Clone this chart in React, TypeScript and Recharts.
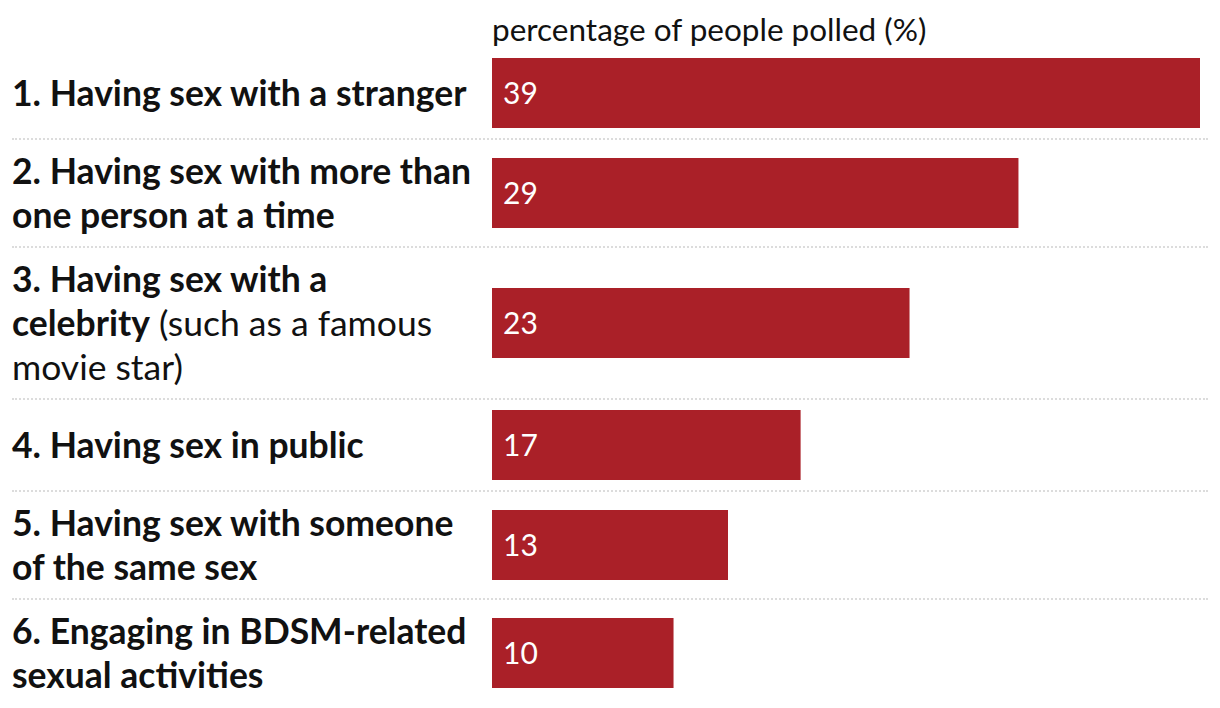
import React from 'react';
import { BarChart, Bar, XAxis, YAxis, LabelList } from 'recharts';

const categories = [
  '1. Having sex with a stranger',
  '2. Having sex with more than\none person at a time',
  '3. Having sex with a\ncelebrity',
  '4. Having sex in public',
  '5. Having sex with someone\nof the same sex',
  '6. Engaging in BDSM-related\nsexual activities',
];
const notes = ['', '', ' (such as a famous\nmovie star)', '', '', ''];
const values = [39, 29, 23, 17, 13, 10];
const axisTitle = 'percentage of people polled (%)';

const BAR_COLOR = '#aa2028';
const FONT = 'Lato, "Noto Sans", sans-serif';
const LINE_H = 44;
const maxValue = Math.max(...values);

const rowHeight = (text: string) => {
  const lines = text.split('\n').length;
  return Math.max(90, lines * LINE_H + 18);
};

const Row = ({ i, last }: { i: number; last: boolean }) => {
  const full = categories[i] + notes[i];
  const h = rowHeight(full);
  const data = [{ name: categories[i], value: values[i] }];
  return (
    <div
      style={{
        display: 'flex',
        alignItems: 'center',
        width: 1196,
        height: h,
        borderBottom: last ? 'none' : '2px dotted #dcdcdc',
      }}
    >
      <div
        style={{
          width: 480,
          fontSize: 35.5,
          lineHeight: LINE_H + 'px',
          whiteSpace: 'pre-line',
          color: '#111',
        }}
      >
        <span style={{ fontWeight: 700 }}>{categories[i]}</span>
        <span style={{ fontWeight: 400 }}>{notes[i]}</span>
      </div>
      <BarChart
        width={716}
        height={h}
        data={data}
        layout="vertical"
        margin={{ top: 0, right: 8, bottom: 0, left: 0 }}
      >
        <XAxis type="number" domain={[0, maxValue]} hide />
        <YAxis type="category" dataKey="name" hide />
        <Bar dataKey="value" fill={BAR_COLOR} barSize={70} isAnimationActive={false}>
          <LabelList
            dataKey="value"
            position="insideLeft"
            offset={11}
            fill="#fff"
            style={{ fontFamily: FONT, fontSize: 30 }}
          />
        </Bar>
      </BarChart>
    </div>
  );
};

export default function App() {
  return (
    <div
      style={{
        position: 'absolute',
        left: 0,
        top: 0,
        width: 1220,
        height: 708,
        background: '#fff',
        fontFamily: FONT,
      }}
    >
      <div
        style={{
          position: 'absolute',
          left: 492,
          top: 10,
          fontSize: 31.5,
          lineHeight: 'normal',
          color: '#111',
          whiteSpace: 'nowrap',
        }}
      >
        {axisTitle}
      </div>
      <div style={{ position: 'absolute', left: 12, top: 48 }}>
        {values.map((_, i) => (
          <Row key={i} i={i} last={i === values.length - 1} />
        ))}
      </div>
    </div>
  );
}
